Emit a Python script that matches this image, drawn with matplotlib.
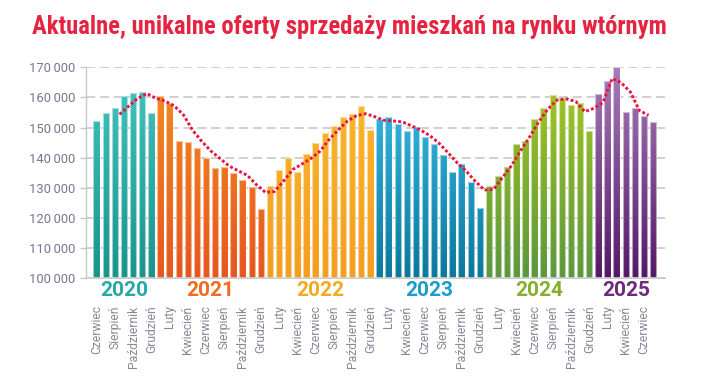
import matplotlib
matplotlib.use('Agg')
import matplotlib.pyplot as plt
import numpy as np
from matplotlib.colors import LinearSegmentedColormap
from matplotlib import font_manager

# ---------------- data ----------------
month_names = ['Styczeń', 'Luty', 'Marzec', 'Kwiecień', 'Maj', 'Czerwiec',
               'Lipiec', 'Sierpień', 'Wrzesień', 'Październik', 'Listopad', 'Grudzień']
years = ['2020', '2021', '2022', '2023', '2024', '2025']
first_month = [6, 1, 1, 1, 1, 1]

v2020 = [152300, 154700, 156400, 160600, 161400, 161700, 154700]
v2021 = [160400, 158100, 145600, 145300, 143100, 140000, 136500, 137000, 135000, 132600, 130400, 122900]
v2022 = [130700, 135900, 139800, 135200, 141200, 144800, 148300, 150500, 153600, 154500, 157200, 149100]
v2023 = [152700, 153400, 151200, 148800, 150300, 146800, 144700, 140900, 135300, 137800, 131900, 123300]
v2024 = [130700, 133800, 136900, 144400, 145400, 152900, 156600, 160800, 159900, 157500, 158000, 149000]
v2025 = [161300, 165400, 170000, 155100, 156400, 153800, 151700]

# dotted trend line, one value per half-month step starting between Aug and Sep 2020
trend = [154400, 157100, 159700, 161300, 159700, 158800, 157200, 154300, 149200, 145500,
         142300, 139800, 137300, 135700, 134200, 131100, 128500, 128800, 132300, 136100,
         137900, 139800, 142200, 146100, 149300, 152200, 154000, 154600, 153600, 152400,
         152200, 151900, 150600, 149200, 147400, 144900, 141700, 138400, 135600, 132200,
         129300, 129500, 133500, 137500, 142500, 147100, 152100, 156300, 159200, 159500,
         158700, 155300, 156400, 158300, 166300, 164900, 161800, 155600, 154100]
trend_offset = 2.5

yticks = [100000, 110000, 120000, 130000, 140000, 150000, 160000, 170000]

# ---------------- style ----------------
label_colors = ['#27a9a6', '#f06a1f', '#f7a823', '#1b9dcb', '#84b02c', '#6b2a7c']
top_colors = ['#45c4c2', '#f38f21', '#fbba2e', '#3cc3ee', '#a9ca1f', '#a97bba']
bottom_colors = ['#17958b', '#e6561e', '#f59d1f', '#0a779c', '#5a973e', '#541766']
title_color = '#e52441'
tick_color = '#7b7590'
month_color = '#8a8898'
grid_color = '#cdcdcd'

installed = {f.name for f in font_manager.fontManager.ttflist}
base_font = ['Roboto', 'DejaVu Sans'] if 'Roboto' in installed else ['DejaVu Sans']
plt.rcParams['font.family'] = base_font

YMIN, YMAX = 100000, 170000

fig = plt.figure(figsize=(7.16, 3.76), dpi=100)
ax = fig.add_axes([0.1201, 0.2598, 0.8087, 0.5612])

all_vals = [v2020, v2021, v2022, v2023, v2024, v2025]
grad = np.linspace(0, 1, 256).reshape(-1, 1)

start = 0
tick_pos, tick_lab = [], []
for g, vals in enumerate(all_vals):
    xs = np.arange(start, start + len(vals))
    bars = ax.bar(xs, np.array(vals) - YMIN, bottom=YMIN, width=0.7,
                  facecolor='none', edgecolor=(1, 1, 1, 0.55), linewidth=0.8, zorder=3)
    cmap = LinearSegmentedColormap.from_list('y%d' % g, [bottom_colors[g], top_colors[g]])
    for rect in bars:
        x0 = rect.get_x()
        w = rect.get_width()
        im = ax.imshow(grad, extent=[x0, x0 + w, YMIN, YMAX], origin='lower',
                       aspect='auto', cmap=cmap, zorder=2, interpolation='bilinear')
        im.set_clip_path(rect)
    for k in range(len(vals)):
        m = first_month[g] + k
        if m % 2 == 0:
            tick_pos.append(start + k)
            tick_lab.append(month_names[m - 1])
    ax.text(start + (len(vals) - 1) / 2, -0.059, years[g], transform=ax.get_xaxis_transform(),
            ha='center', va='center', fontsize=15, fontweight='bold', color=label_colors[g])
    start += len(vals)

tx = trend_offset + np.arange(len(trend))
ax.plot(tx, trend, color='#e8173e', linewidth=2.1, linestyle=(0, (1, 0.75)),
        dash_capstyle='butt', zorder=4)

ax.set_xlim(-1.17, 62.3)
ax.set_ylim(YMIN, YMAX)

ax.set_yticks(yticks)
ax.set_yticklabels([f'{t // 1000}\u2009{t % 1000:03d}' for t in yticks])
ax.tick_params(axis='y', length=4, width=1, color='#c8c8c8', pad=3.8,
               labelsize=9.4, labelcolor=tick_color)
ax.set_xticks(tick_pos)
ax.set_xticklabels(tick_lab, rotation=90)
ax.tick_params(axis='x', length=0, pad=19.5, labelsize=8.7, labelcolor=month_color)
for lbl in ax.get_xticklabels():
    lbl.set_va('top')
    lbl.set_ha('center')

for s in ['top', 'right']:
    ax.spines[s].set_visible(False)
ax.spines['left'].set_color('#c8c8c8')
ax.spines['bottom'].set_color('#c8c8c8')
ax.spines['left'].set_linewidth(1)
ax.spines['bottom'].set_linewidth(1.3)

for t in yticks[1:]:
    ax.axhline(t, color=grid_color, linewidth=1.3, linestyle=(0, (5.1, 2.6)), zorder=1)

# title, fitted to the reference width
title_fams = [f for f in ['Roboto Condensed', 'Liberation Sans Narrow', 'DejaVu Sans Condensed']
              if f in installed] + base_font
title = fig.text(31.7 / 716, 1 - 34.3 / 376,
                 'Aktualne, unikalne oferty sprzedaży mieszkań na rynku wtórnym',
                 ha='left', va='baseline', fontsize=17.3, fontweight='bold',
                 color=title_color, family=title_fams)
fig.canvas.draw()
w = title.get_window_extent().width
target = 636
if abs(w - target) > 4:
    title.set_fontsize(17.3 * target / w)

fig.savefig('out.png', dpi=100)
